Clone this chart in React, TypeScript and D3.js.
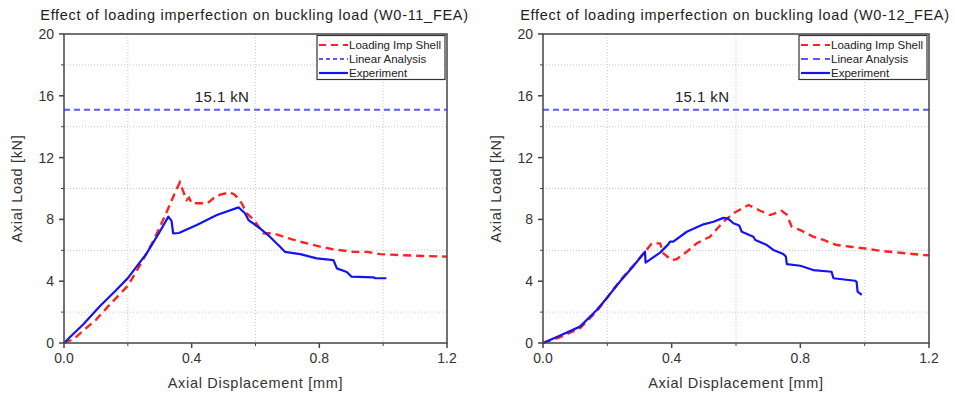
import { useEffect, useRef } from 'react';
import * as d3 from 'd3';

type Pt = [number, number];

// W0-11 panel
const w011Shell: Pt[] = [
  [0, 0], [0.03, 0.25], [0.06, 0.8], [0.1, 1.5], [0.144, 2.5], [0.2, 3.7], [0.24, 5.1],
  [0.28, 6.6], [0.32, 8.4], [0.345, 9.6], [0.363, 10.4], [0.372, 9.9], [0.384, 9.26],
  [0.392, 9.4], [0.4, 9.05], [0.45, 9.05], [0.47, 9.4], [0.49, 9.6], [0.52, 9.75],
  [0.535, 9.6], [0.557, 9.04], [0.572, 8.4], [0.595, 7.96], [0.625, 7.1], [0.656, 7.1],
  [0.7, 6.8], [0.74, 6.56], [0.8, 6.25], [0.844, 6.06], [0.906, 5.9], [0.95, 5.9],
  [0.99, 5.75], [1.1, 5.65], [1.2, 5.59]
];
const w011Exp: Pt[] = [
  [0, 0], [0.02, 0.4], [0.06, 1.2], [0.113, 2.4], [0.16, 3.35], [0.2, 4.2], [0.259, 5.8],
  [0.3, 7.2], [0.327, 8.18], [0.337, 7.9], [0.342, 7.1], [0.36, 7.12], [0.416, 7.64],
  [0.479, 8.28], [0.547, 8.78], [0.567, 8.4], [0.578, 7.96], [0.614, 7.42], [0.645, 6.88],
  [0.677, 6.23], [0.692, 5.9], [0.74, 5.75], [0.792, 5.48], [0.844, 5.37], [0.855, 4.83],
  [0.886, 4.6], [0.901, 4.29], [0.97, 4.25], [0.975, 4.19], [1.01, 4.19]
];

// W0-12 panel
const w012Shell: Pt[] = [
  [0, 0], [0.05, 0.35], [0.115, 0.95], [0.167, 2.05], [0.24, 4.05], [0.28, 5.0],
  [0.322, 6.02], [0.338, 6.45], [0.364, 6.45], [0.374, 5.8], [0.4, 5.37], [0.415, 5.42],
  [0.447, 5.91], [0.478, 6.45], [0.519, 6.88], [0.561, 7.85], [0.592, 8.4], [0.639, 8.93],
  [0.675, 8.56], [0.706, 8.28], [0.742, 8.56], [0.758, 8.3], [0.773, 7.53], [0.8, 7.31],
  [0.84, 6.88], [0.872, 6.67], [0.913, 6.34], [0.955, 6.23], [0.996, 6.13], [1.048, 5.97],
  [1.11, 5.84], [1.183, 5.7], [1.2, 5.68]
];
const w012Exp: Pt[] = [
  [0, 0], [0.05, 0.45], [0.115, 1.06], [0.167, 2.14], [0.2, 2.95], [0.24, 4.0], [0.28, 4.95],
  [0.317, 5.91], [0.319, 5.2], [0.364, 5.85], [0.39, 6.4], [0.395, 6.56], [0.405, 6.56],
  [0.447, 7.2], [0.499, 7.68], [0.53, 7.85], [0.561, 8.1], [0.575, 8.05], [0.592, 7.75],
  [0.61, 7.6], [0.618, 7.2], [0.654, 6.88], [0.66, 6.67], [0.696, 6.34], [0.716, 6.02],
  [0.747, 5.76], [0.755, 5.6], [0.758, 5.11], [0.8, 5.0], [0.84, 4.72], [0.897, 4.61],
  [0.903, 4.19], [0.97, 4.03], [0.975, 3.95], [0.978, 3.32], [0.991, 3.12]
];

const linearLoad = 15.1;
const xMajor = [0, 0.4, 0.8, 1.2];
const xMinor = [0.2, 0.6, 1.0];
const yMajor = [0, 4, 8, 12, 16, 20];
const yMinor = [2, 6, 10, 14, 18];
const legendLabels = ['Loading Imp Shell', 'Linear Analysis', 'Experiment'];

const RED = '#ff2222';
const BLUE = '#1414f0';
const LBLUE = '#5a5aff';
const FONT = 'Arial, "Liberation Sans", sans-serif';

const Panel = ({ left, right, title, shell, exp, linDash }: {
  left: number; right: number; title: string; shell: Pt[]; exp: Pt[]; linDash: string;
}) => {
  const ref = useRef<SVGGElement>(null);

  useEffect(() => {
    const g = d3.select(ref.current);
    g.selectAll('*').remove();
    const top = 34, bottom = 343;
    const x = d3.scaleLinear().domain([0, 1.2]).range([left, right]);
    const y = d3.scaleLinear().domain([0, 20]).range([bottom, top]);

    // grid sits on the minor ticks only
    g.selectAll('.vg').data(xMinor).enter().append('line')
      .attr('x1', d => x(d)).attr('x2', d => x(d)).attr('y1', top).attr('y2', bottom)
      .attr('stroke', '#c8c8c8').attr('stroke-dasharray', '1,2');
    g.selectAll('.hg').data(yMinor).enter().append('line')
      .attr('x1', left).attr('x2', right).attr('y1', d => y(d)).attr('y2', d => y(d))
      .attr('stroke', '#c8c8c8').attr('stroke-dasharray', '1,2');

    // linear analysis
    g.append('line')
      .attr('x1', x(0)).attr('x2', x(1.2)).attr('y1', y(linearLoad)).attr('y2', y(linearLoad))
      .attr('stroke', LBLUE).attr('stroke-width', 2).attr('stroke-dasharray', '6,4');
    g.append('text')
      .attr('x', x(0.41)).attr('y', y(linearLoad) - 8)
      .attr('font-size', 15).attr('letter-spacing', 0.4).attr('font-family', FONT).attr('fill', '#222')
      .text(`${linearLoad} kN`);

    const line = d3.line<Pt>().x(d => x(d[0])).y(d => y(d[1]));
    g.append('path').datum(shell).attr('d', line).attr('fill', 'none')
      .attr('stroke', RED).attr('stroke-width', 2.4).attr('stroke-dasharray', '8,5');
    g.append('path').datum(exp).attr('d', line).attr('fill', 'none')
      .attr('stroke', BLUE).attr('stroke-width', 2.2).attr('stroke-linejoin', 'round');

    // frame
    g.append('rect').attr('x', left).attr('y', top).attr('width', right - left).attr('height', bottom - top)
      .attr('fill', 'none').attr('stroke', '#444').attr('stroke-width', 1.5);

    // ticks
    g.selectAll('.xt').data(xMajor).enter().append('line')
      .attr('x1', d => x(d)).attr('x2', d => x(d)).attr('y1', bottom).attr('y2', bottom + 5)
      .attr('stroke', '#444').attr('stroke-width', 1.5);
    g.selectAll('.xm').data(xMinor).enter().append('line')
      .attr('x1', d => x(d)).attr('x2', d => x(d)).attr('y1', bottom).attr('y2', bottom + 3)
      .attr('stroke', '#444').attr('stroke-width', 1);
    g.selectAll('.yt').data(yMajor).enter().append('line')
      .attr('x1', left - 5).attr('x2', left).attr('y1', d => y(d)).attr('y2', d => y(d))
      .attr('stroke', '#444').attr('stroke-width', 1.5);
    g.selectAll('.ym').data(yMinor).enter().append('line')
      .attr('x1', left - 3).attr('x2', left).attr('y1', d => y(d)).attr('y2', d => y(d))
      .attr('stroke', '#444').attr('stroke-width', 1);

    g.selectAll('.xl').data(xMajor).enter().append('text')
      .attr('x', d => x(d)).attr('y', bottom + 20).attr('text-anchor', 'middle')
      .attr('font-size', 14).attr('font-family', FONT).attr('fill', '#333')
      .text(d => d3.format('.1f')(d));
    g.selectAll('.yl').data(yMajor).enter().append('text')
      .attr('x', left - 10).attr('y', d => y(d) + 5).attr('text-anchor', 'end')
      .attr('font-size', 14).attr('font-family', FONT).attr('fill', '#333')
      .text(d => d);

    g.append('text')
      .attr('x', (left + right) / 2).attr('y', 388).attr('text-anchor', 'middle')
      .attr('font-size', 14.5).attr('letter-spacing', 0.7).attr('font-family', FONT).attr('fill', '#333')
      .text('Axial Displacement [mm]');
    g.append('text')
      .attr('transform', `translate(${left - 42},${(top + bottom) / 2}) rotate(-90)`)
      .attr('text-anchor', 'middle')
      .attr('font-size', 14.5).attr('letter-spacing', 0.7).attr('font-family', FONT).attr('fill', '#333')
      .text('Axial Load [kN]');
    g.append('text')
      .attr('x', (left + right) / 2 - 1).attr('y', 20).attr('text-anchor', 'middle')
      .attr('font-size', 14.5).attr('letter-spacing', 0.7).attr('font-family', FONT).attr('fill', '#222')
      .text(title);

    // legend
    const lx = right - 130;
    const lg = g.append('g');
    lg.append('rect').attr('x', lx).attr('y', top + 1.5).attr('width', 128).attr('height', 44)
      .attr('fill', '#fff').attr('stroke', '#333').attr('stroke-width', 1.2);
    const styles = [
      { c: RED, dash: '7,5', w: 2 },
      { c: LBLUE, dash: linDash, w: 2 },
      { c: BLUE, dash: null, w: 2.2 }
    ];
    legendLabels.forEach((lab, i) => {
      const ly = 45 + i * 14;
      const s = styles[i];
      const l = lg.append('line').attr('x1', lx + 2).attr('x2', lx + 31).attr('y1', ly).attr('y2', ly)
        .attr('stroke', s.c).attr('stroke-width', s.w);
      if (s.dash) l.attr('stroke-dasharray', s.dash);
      lg.append('text').attr('x', lx + 32).attr('y', ly + 4)
        .attr('font-size', 11.5).attr('font-family', FONT).attr('fill', '#222')
        .text(lab);
    });
  }, [left, right, title, shell, exp, linDash]);

  return <g ref={ref} />;
};

const App = () => (
  <svg width={955} height={396}
    style={{ position: 'absolute', left: 0, top: 0, background: '#fff', display: 'block' }}>
    <Panel left={64} right={447} title="Effect of loading imperfection on buckling load (W0-11_FEA)"
      shell={w011Shell} exp={w011Exp} linDash="4,3" />
    <Panel left={543} right={929} title="Effect of loading imperfection on buckling load (W0-12_FEA)"
      shell={w012Shell} exp={w012Exp} linDash="7,5" />
  </svg>
);

export default App;
